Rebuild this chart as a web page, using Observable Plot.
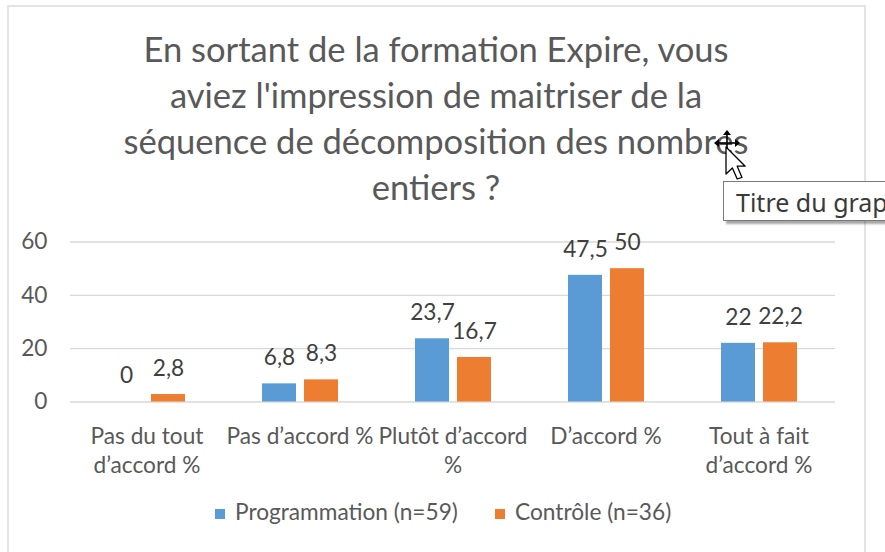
<!DOCTYPE html>
<html>
<head>
<meta charset="utf-8">
<script src="https://cdn.jsdelivr.net/npm/d3@7"></script>
<script src="https://cdn.jsdelivr.net/npm/@observablehq/plot@0.6"></script>
<style>
  body { margin: 0; background: #fff; }
  #wrap { position: relative; width: 885px; height: 552px; overflow: hidden; font-family: Lato, "Open Sans", sans-serif; color: #595959; }
  #frame { position: absolute; left: 7px; top: 5px; width: 859px; height: 600px; border: 2px solid #e3e3e3; box-sizing: border-box; }
  #title { position: absolute; left: 0; width: 872px; text-align: center; line-height: 46px; color: #595959; white-space: nowrap; }
  #chart { position: absolute; left: 0; top: 225px; }
  .leg { position: absolute; white-space: nowrap; line-height: 30px; color: #595959; }
  .key { position: absolute; width: 10px; height: 10px; }
  #tip { position: absolute; left: 723px; top: 181px; width: 200px; height: 40px; border: 1px solid #7a7a7a; background: #fff;
         box-shadow: 3px 3px 2px rgba(0,0,0,0.35); font-family: "Noto Sans", "Open Sans", sans-serif; font-size: 25px;
         line-height: 40px; color: #3a3a3a; padding-left: 12px; box-sizing: border-box; white-space: nowrap; }
  #cursor { position: absolute; left: 700px; top: 120px; overflow: visible; }
</style>
</head>
<body>
<div id="wrap">
  <div id="frame"></div>
  <div id="title"></div>
  <div id="chart"></div>
  <div id="legend"></div>
  <div id="tip">Titre du graphique</div>
  <svg id="cursor" width="60" height="70" viewBox="700 120 60 70">
    <g stroke="#000" stroke-width="1.6" fill="none">
      <line x1="716" y1="143" x2="738" y2="143"/>
      <line x1="727" y1="132" x2="727" y2="154"/>
    </g>
    <g fill="#000">
      <polygon points="714,143 719,139 719,147"/>
      <polygon points="740,143 735,139 735,147"/>
      <polygon points="727,130 723,135 731,135"/>
    </g>
    <polygon points="726,147 726,174 732.4,168 737.2,179 742,177.4 737.2,166.2 745.2,166.2" fill="#fff" stroke="#000" stroke-width="1.3" stroke-linejoin="round"/>
  </svg>
</div>
<script>
const titleLines = [
  "En sortant de la formation Expire, vous",
  "aviez l'impression de maitriser de la",
  "séquence de décomposition des nombres",
  "entiers ?"
];
const categories = ["Pas du tout d’accord %", "Pas d’accord %", "Plutôt d’accord %", "D’accord %", "Tout à fait d’accord %"];
const categoryLabels = ["Pas du tout\nd’accord %", "Pas d’accord %", "Plutôt d’accord\n%", "D’accord %", "Tout à fait\nd’accord %"];
const series = ["Programmation (n=59)", "Contrôle (n=36)"];
const programmation = [0, 6.8, 23.7, 47.5, 22];
const controle = [2.8, 8.3, 16.7, 50, 22.2];
const colors = ["#5B9BD5", "#ED7D31"];
const yTicks = [0, 20, 40, 60];

// fit font sizes to the reference text widths
const ctx = document.createElement("canvas").getContext("2d");
function textW(t, s) { ctx.font = s + "px Lato, 'Open Sans', sans-serif"; return ctx.measureText(t).width; }
let labelSize = 24 * 223 / textW(series[0], 24);
labelSize = Math.max(18, Math.min(26, labelSize));
let titleSize = 37 * 586 / textW(titleLines[0], 37);
titleSize = Math.max(28, Math.min(40, titleSize));

// title
const title = document.getElementById("title");
title.style.fontSize = titleSize + "px";
title.style.top = (62 - ((46 - 1.2 * titleSize) / 2 + 0.987 * titleSize)) + "px";
title.innerHTML = titleLines.map(l => l.replace(/&/g, "&amp;").replace(/</g, "&lt;")).join("<br>");

// chart
const data = categories.flatMap((c, i) => [
  {cat: c, s: series[0], v: programmation[i]},
  {cat: c, s: series[1], v: controle[i]}
]);
const fmt = v => String(v).replace(".", ",");

const chart = Plot.plot({
  width: 885,
  height: 262,
  marginTop: 16.5,
  marginBottom: 85.5,
  marginLeft: 70,
  marginRight: 50,
  style: {fontFamily: "Lato, 'Open Sans', sans-serif", fontSize: labelSize + "px", color: "#595959", background: "transparent", overflow: "visible"},
  fx: {domain: categories, padding: 0, label: null},
  x: {domain: series, paddingInner: 0.2, paddingOuter: 0.9, axis: null},
  y: {domain: [0, 60], label: null},
  color: {domain: series, range: colors},
  marks: [
    Plot.gridY({ticks: yTicks, stroke: "#d9d9d9", strokeOpacity: 1, strokeWidth: 1.3}),
    Plot.axisY({ticks: yTicks, tickSize: 0, tickPadding: 23, fill: "#595959", fontSize: labelSize, label: null}),
    Plot.axisFx({anchor: "bottom", tickSize: 0, tickPadding: 21, tickFormat: d => categoryLabels[categories.indexOf(d)],
                 lineHeight: 29.3 / labelSize, fontSize: labelSize, fill: "#595959", label: null}),
    Plot.barY(data, {fx: "cat", x: "s", y: "v", fill: "s"}),
    Plot.text(data, {fx: "cat", x: "s", y: "v", text: d => fmt(d.v), dy: -26, fill: "#404040", fontSize: labelSize})
  ]
});
document.getElementById("chart").appendChild(chart);

// legend
const legend = document.getElementById("legend");
const legendX = [215, 495];
series.forEach((s, i) => {
  const k = document.createElement("div");
  k.className = "key";
  k.style.left = legendX[i] + "px";
  k.style.top = "509px";
  k.style.background = colors[i];
  legend.appendChild(k);
  const t = document.createElement("div");
  t.className = "leg";
  t.style.left = (legendX[i] + 20) + "px";
  t.style.fontSize = labelSize + "px";
  t.style.top = (521 - ((30 - 1.2 * labelSize) / 2 + 0.987 * labelSize)) + "px";
  t.textContent = s;
  legend.appendChild(t);
});
</script>
</body>
</html>
